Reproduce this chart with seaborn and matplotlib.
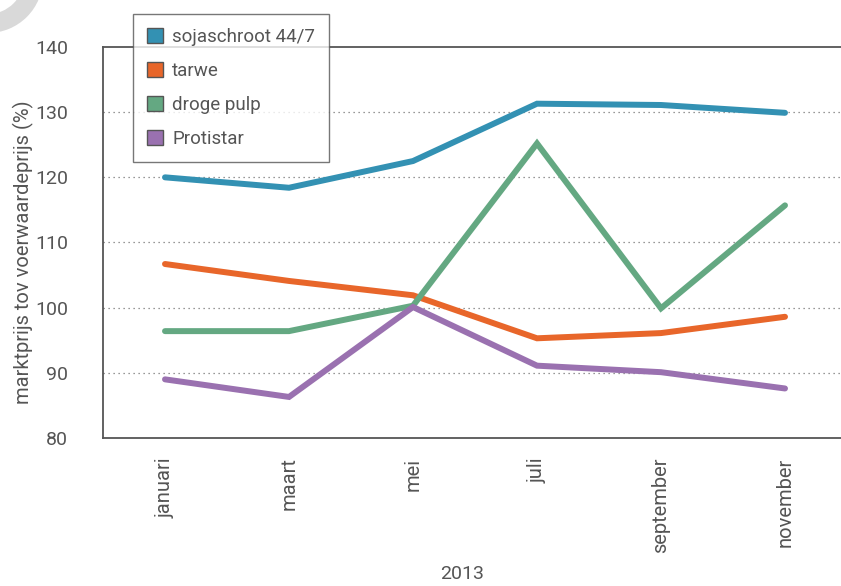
import matplotlib
matplotlib.use("Agg")
import matplotlib.pyplot as plt
import matplotlib.patches as mpatches
import matplotlib.transforms as mtransforms
import numpy as np
import pandas as pd
import seaborn as sns

months = ["januari", "maart", "mei", "juli", "september", "november"]
series_names = ["sojaschroot 44/7", "tarwe", "droge pulp", "Protistar"]
soja = [120.0, 118.4, 122.5, 131.3, 131.1, 129.9]
tarwe = [106.7, 104.1, 101.9, 95.3, 96.1, 98.6]
pulp = [96.4, 96.4, 100.3, 125.2, 99.9, 115.7]
protistar = [89.0, 86.3, 100.1, 91.1, 90.1, 87.6]
colors = ["#3391b3", "#e8662a", "#64a882", "#9a71b0"]
yticks = [80, 90, 100, 110, 120, 130, 140]

sns.set_theme(style="white")
plt.rcParams["font.family"] = ["Roboto", "DejaVu Sans"]
txt = "#555555"

rows = []
for name, vals in zip(series_names, [soja, tarwe, pulp, protistar]):
    for i, v in enumerate(vals):
        rows.append({"idx": i, "maand": months[i], "waarde": v, "serie": name})
df = pd.DataFrame(rows)

fig = plt.figure(figsize=(8.41, 5.86), dpi=100)
ax = fig.add_axes([103/841, 1 - 438/586, 738/841, (438 - 47)/586])

sns.lineplot(data=df, x="idx", y="waarde", hue="serie", hue_order=series_names,
             palette=colors, linewidth=4.3, sort=False, ax=ax, legend=False,
             solid_capstyle="round", solid_joinstyle="miter")

ax.set_xlim(-0.5, -0.5 + 738/124)
ax.set_ylim(80, 140)
ax.set_yticks(yticks)
ax.set_yticklabels([str(t) for t in yticks], fontsize=14, color=txt)
ax.set_xticks(range(len(months)))
ax.set_xticklabels(months, rotation=90, fontsize=14.5, color=txt)
ax.tick_params(axis="x", which="major", length=0, pad=14)
ax.set_xticks(np.arange(-0.5, 5.5, 1.0), minor=True)
ax.tick_params(axis="x", which="minor", length=7, width=1.2, color=txt, direction="out")
ax.tick_params(axis="y", which="major", length=7, width=1.2, color=txt, direction="out", pad=18)

for t in [90, 100, 110, 120, 130]:
    ax.axhline(t, color="#777777", linestyle=(0, (1, 3)), linewidth=0.9, zorder=0)

for s in ["left", "bottom", "top"]:
    ax.spines[s].set_visible(True)
    ax.spines[s].set_color(txt)
    ax.spines[s].set_linewidth(1.3)
ax.spines["right"].set_visible(False)

ax.set_xlabel("2013", fontsize=14, color=txt)
ax.xaxis.set_label_coords((462 - 103) / 738, -(565 - 438) / 391)
ax.set_ylabel("marktprijs tov voerwaardeprijs (%)", fontsize=14.5, color=txt)
ax.yaxis.set_label_coords(-(103 - 34) / 738, (438 - 252) / 391)

handles = [mpatches.Patch(facecolor=c, edgecolor="#555555", linewidth=1.0, label=n)
           for c, n in zip(colors, series_names)]
leg = fig.legend(handles=handles, loc="upper left",
                 bbox_to_anchor=(133/841, 1 - 14/586), borderaxespad=0, frameon=True,
                 fontsize=13.5, handlelength=0.85, handleheight=0.85,
                 handletextpad=0.48, labelspacing=0.85, borderpad=0.75,
                 fancybox=False, labelcolor=txt)
leg.get_frame().set_edgecolor("#555555")
leg.get_frame().set_linewidth(1.0)
leg.get_frame().set_facecolor("white")
leg.set_zorder(10)

ring = mpatches.Wedge((-12, 586 + 22), 55, 0, 360, width=19, facecolor="#d9d9d9",
                      edgecolor="none", transform=mtransforms.IdentityTransform())
fig.patches.append(ring)

fig.savefig("out.png", dpi=100)
